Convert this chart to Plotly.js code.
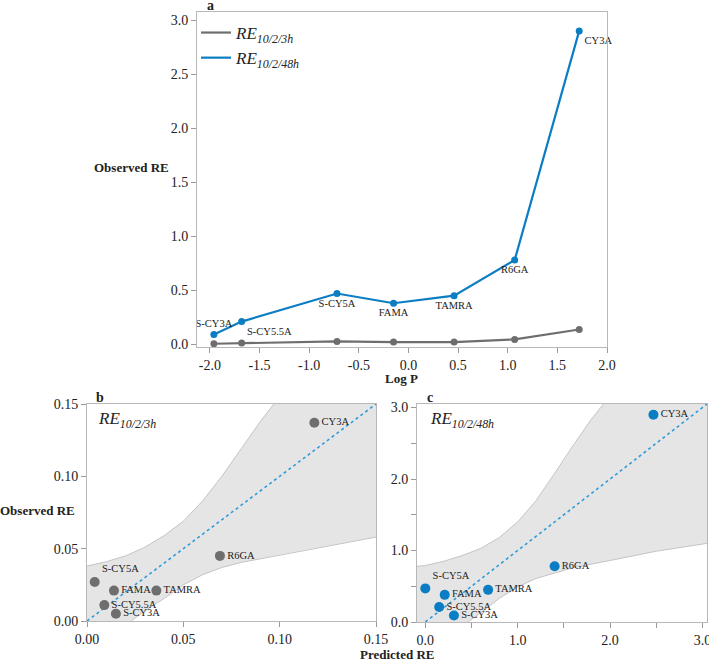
<!DOCTYPE html>
<html>
<head>
<meta charset="utf-8">
<script src="https://cdn.plot.ly/plotly-3.0.1.min.js"></script>
<style>html,body{margin:0;padding:0;background:#fff;}#chart{width:709px;height:661px;}</style>
</head>
<body>
<div id="chart"></div>
<script>
// ---- data ----
const dyes = ['S-CY3A','S-CY5.5A','S-CY5A','FAMA','TAMRA','R6GA','CY3A'];
const logP = [-1.96,-1.68,-0.72,-0.15,0.46,1.07,1.72];
const obs3h = [0.005,0.011,0.027,0.021,0.021,0.045,0.137];
const obs48h = [0.09,0.21,0.47,0.38,0.45,0.78,2.90];
const pred3h = [0.015,0.009,0.004,0.014,0.036,0.069,0.118];
const pred48h = [0.31,0.15,0.00,0.21,0.68,1.40,2.47];
// confidence bands
const bandB_upX = [0,0.01,0.02,0.03,0.04,0.05,0.06,0.07,0.08,0.09,0.097];
const bandB_upY = [0.038,0.041,0.045,0.051,0.059,0.069,0.083,0.100,0.119,0.138,0.150];
const bandB_loX = [0.023,0.03,0.04,0.05,0.06,0.07,0.08,0.09,0.10,0.12,0.15];
const bandB_loY = [0,0.007,0.0155,0.025,0.032,0.037,0.0405,0.043,0.046,0.051,0.058];
const bandC_upX = [-0.09,0,0.2,0.4,0.6,0.8,1.0,1.2,1.4,1.6,1.8,1.93];
const bandC_upY = [0.78,0.79,0.85,0.93,1.03,1.18,1.40,1.70,2.08,2.47,2.84,3.05];
const bandC_loX = [0.46,0.6,0.8,1.0,1.2,1.4,1.6,2.0,2.5,3.05];
const bandC_loY = [0,0.13,0.33,0.49,0.61,0.69,0.76,0.86,0.99,1.10];
const refB = [0,0.15];
const refC = [0,3.05];
const rangeB = {x:[0,0.15], y:[0,0.15]};
const rangeC = {x:[-0.09,3.05], y:[0,3.05]};
const ticksA_x = [-2,-1.5,-1,-0.5,0,0.5,1,1.5,2];
const ticksA_y = [0,0.5,1,1.5,2,2.5,3];

// ---- styles ----
const FONT = 'Liberation Serif, Times New Roman, serif';
const GRAY = '#6e6e6e';
const BLUE = '#0b7dc3';
const DOT = '#2f9bdb';
const FILL = '#e5e5e5';
const EDGE = '#c4c4c4';
const TXT = '#222';
const labelPosA = ['top center','bottom right','bottom center','bottom center','bottom center','bottom center','bottom right'];
const labelPosBC = ['middle right','middle right','top right','middle right','middle right','middle right','middle right'];
const labelFont = {family:FONT, size:10.5, color:TXT};

function bandPoly(upX, upY, loX, loY, rx, ry){
  // closed outline: bottom-left -> upper curve -> top-right corner -> lower curve (reversed) -> bottom-left
  return {
    x: [rx[0]].concat(upX, [rx[1]], loX.slice().reverse(), [rx[0]]),
    y: [ry[0]].concat(upY, [upY[upY.length-1]], loY.slice().reverse(), [ry[0]])
  };
}
const polyB = bandPoly(bandB_upX, bandB_upY, bandB_loX, bandB_loY, rangeB.x, rangeB.y);
const polyC = bandPoly(bandC_upX, bandC_upY, bandC_loX, bandC_loY, rangeC.x, rangeC.y);

const traces = [
  // panel a: lines (legend) + markers/labels
  {x: logP, y: obs3h, xaxis:'x', yaxis:'y', mode:'lines', name:'<i>RE<sub>10/2/3h</sub></i>',
   line:{color:GRAY, width:2.2}},
  {x: logP, y: obs48h, xaxis:'x', yaxis:'y', mode:'lines', name:'<i>RE<sub>10/2/48h</sub></i>',
   line:{color:BLUE, width:2.2}},
  {x: logP, y: obs3h, xaxis:'x', yaxis:'y', mode:'markers', marker:{color:GRAY, size:7}, showlegend:false},
  {x: logP, y: obs48h, xaxis:'x', yaxis:'y', mode:'markers+text', text: dyes, textposition: labelPosA,
   textfont: labelFont, marker:{color:BLUE, size:7}, showlegend:false, cliponaxis:false},
  // panel b
  {x: polyB.x, y: polyB.y, xaxis:'x2', yaxis:'y2', mode:'lines', fill:'toself', fillcolor:FILL,
   line:{width:0}, showlegend:false, hoverinfo:'skip'},
  {x: bandB_upX, y: bandB_upY, xaxis:'x2', yaxis:'y2', mode:'lines', line:{color:EDGE, width:1}, showlegend:false},
  {x: bandB_loX, y: bandB_loY, xaxis:'x2', yaxis:'y2', mode:'lines', line:{color:EDGE, width:1}, showlegend:false},
  {x: refB, y: refB, xaxis:'x2', yaxis:'y2', mode:'lines', line:{color:DOT, width:1.6, dash:'dot'}, showlegend:false},
  {x: pred3h, y: obs3h, xaxis:'x2', yaxis:'y2', mode:'markers+text', text: dyes, textposition: labelPosBC,
   textfont: labelFont, marker:{color:GRAY, size:10}, showlegend:false, cliponaxis:false},
  // panel c
  {x: polyC.x, y: polyC.y, xaxis:'x3', yaxis:'y3', mode:'lines', fill:'toself', fillcolor:FILL,
   line:{width:0}, showlegend:false, hoverinfo:'skip'},
  {x: bandC_upX, y: bandC_upY, xaxis:'x3', yaxis:'y3', mode:'lines', line:{color:EDGE, width:1}, showlegend:false},
  {x: bandC_loX, y: bandC_loY, xaxis:'x3', yaxis:'y3', mode:'lines', line:{color:EDGE, width:1}, showlegend:false},
  {x: refC, y: refC, xaxis:'x3', yaxis:'y3', mode:'lines', line:{color:DOT, width:1.6, dash:'dot'}, showlegend:false},
  {x: pred48h, y: obs48h, xaxis:'x3', yaxis:'y3', mode:'markers+text', text: dyes, textposition: labelPosBC,
   textfont: labelFont, marker:{color:BLUE, size:10}, showlegend:false, cliponaxis:false}
];

const axBase = {showline:true, mirror:true, linecolor:'#b8b8b8', linewidth:1, ticks:'outside', ticklen:5,
  tickcolor:'#9a9a9a', showgrid:false, zeroline:false, ticklabeloverflow:'allow',
  tickfont:{family:FONT, size:14, color:TXT}};

const W = 709, H = 661;
const dx = (a,b) => [a/W, b/W];
const dy = (top,bot) => [1-bot/H, 1-top/H];
const fmt = (d) => (v) => v.toFixed(d);
function ann(text, px, py, size, extra){
  return Object.assign({text:text, x:px/W, y:1-py/H, xref:'paper', yref:'paper', xanchor:'center', yanchor:'middle',
    showarrow:false, font:{family:FONT, size:size, color:TXT}}, extra||{});
}

const layout = {
  width: W, height: H,
  margin:{l:0, r:0, t:0, b:0},
  paper_bgcolor:'#fff', plot_bgcolor:'#fff',
  font:{family:FONT, color:TXT},
  showlegend:true,
  legend:{x:196/W, y:1-15/H, xanchor:'left', yanchor:'top', bgcolor:'rgba(0,0,0,0)',
          font:{family:FONT, size:17, color:TXT}},
  xaxis: Object.assign({}, axBase, {domain: dx(197,607), range:[-2.13,2.0], tickvals:ticksA_x, ticktext:ticksA_x.map(fmt(1)), anchor:'y'}),
  yaxis: Object.assign({}, axBase, {domain: dy(12,347), range:[-0.025,3.075], tickvals:ticksA_y, ticktext:ticksA_y.map(fmt(1)), anchor:'x'}),
  xaxis2: Object.assign({}, axBase, {domain: dx(87,376), range:rangeB.x, dtick:0.05, tickformat:'.2f', anchor:'y2'}),
  yaxis2: Object.assign({}, axBase, {domain: dy(404,621), range:rangeB.y, dtick:0.05, tickformat:'.2f', anchor:'x2'}),
  xaxis3: Object.assign({}, axBase, {domain: dx(417,707), range:rangeC.x, dtick:1, tickformat:'.1f', anchor:'y3',
          minor:{dtick:0.5, ticks:'outside', ticklen:5, tickcolor:'#9a9a9a'}}),
  yaxis3: Object.assign({}, axBase, {domain: dy(404,622), range:rangeC.y, dtick:1, tickformat:'.1f', anchor:'x3',
          minor:{dtick:0.5, ticks:'outside', ticklen:5, tickcolor:'#9a9a9a'}}),
  annotations: [
    ann('<b>a</b>', 210, 6, 14),
    ann('<b>b</b>', 100, 397, 14),
    ann('<b>c</b>', 430, 397, 14),
    ann('<b>Observed RE</b>', 131, 167, 13),
    ann('<b>Log P</b>', 401, 378, 13),
    ann('<b>Observed RE</b>', 37, 510, 13),
    ann('<b>Predicted RE</b>', 397, 654, 13),
    ann('<i>RE<sub>10/2/3h</sub></i>', 96, 420, 17, {xanchor:'left'}),
    ann('<i>RE<sub>10/2/48h</sub></i>', 428, 420, 17, {xanchor:'left'})
  ]
};

Plotly.newPlot('chart', traces, layout, {displayModeBar:false, staticPlot:true});
</script>
</body>
</html>
